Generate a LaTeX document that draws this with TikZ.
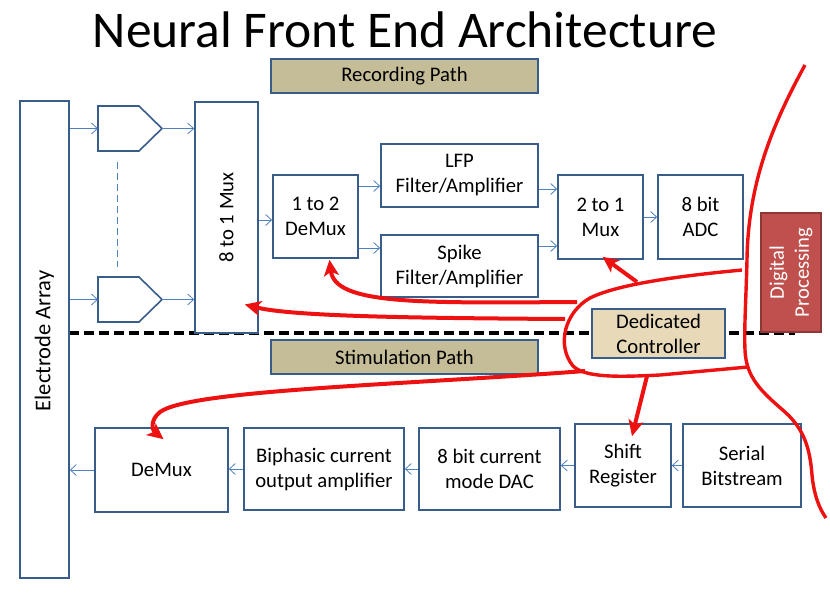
\documentclass[tikz,border=0pt]{standalone}
\usepackage{fontspec}
\setmainfont{Carlito}
\usetikzlibrary{arrows.meta,calc}
\definecolor{bbord}{HTML}{385D8A}
\definecolor{barr}{HTML}{4F81BD}
\definecolor{tanc}{HTML}{C4BD97}
\definecolor{ctrlc}{HTML}{E8DAB9}
\definecolor{dprocc}{HTML}{C0504D}
\definecolor{dprocb}{HTML}{8C3836}
\definecolor{redc}{HTML}{EE1111}
\begin{document}
\begin{tikzpicture}[x=1pt,y=-1pt,font=\fontsize{20.7}{25}\selectfont,
  blk/.style={draw=bbord,line width=1.6pt,fill=white,align=center,inner sep=0pt},
  tanbox/.style={blk,fill=tanc},
  bline/.style={draw=bbord,line width=1.6pt},
  barrow/.style={draw=barr,line width=0.8pt,-{Straight Barb[length=6pt,width=11pt,line width=0.8pt]}},
  rarrow/.style={draw=redc,line width=4pt,-{Stealth[length=16pt,width=15pt,inset=4pt]}},
  rcurve/.style={draw=redc,line width=3.4pt}]
\useasboundingbox (0,0) rectangle (830,610);

% title
\node[font=\fontsize{51.5}{60}\selectfont] (title) at (405,30) {Neural Front End Architecture};

% separator
\draw[line width=3.4pt,dash pattern=on 10pt off 5pt] (69,333) -- (795,333);

% path labels
\node[tanbox,minimum width=267pt,minimum height=34pt] (rec) at (404.5,76) {Recording Path};
\node[tanbox,minimum width=267pt,minimum height=34pt] (stim) at (404.5,357) {Stimulation Path};

% electrode array
\node[blk,minimum width=49pt,minimum height=477pt] (ea) at (44.5,339.5) {};
\node[rotate=90,font=\fontsize{22.5}{27}\selectfont] (eat) at (44.5,341) {Electrode Array};

% amplifiers
\draw[bline,fill=white] (98,106) -- (139,106) -- (162,128.5) -- (139,151) -- (98,151) -- cycle;
\draw[bline,fill=white] (98,277) -- (139,277) -- (162,299.5) -- (139,322) -- (98,322) -- cycle;
\coordinate (a1i) at (98,128.5);
\coordinate (a1o) at (162,128.5);
\coordinate (a2i) at (98,299.5);
\coordinate (a2o) at (162,299.5);
\coordinate (dash1) at (117,162);
\coordinate (dash2) at (117,267);
\draw[draw=barr,line width=0.8pt,dash pattern=on 7pt off 4pt] (dash1) -- (dash2);

% recording path blocks
\node[blk,minimum width=63pt,minimum height=231pt] (mux8) at (226.5,217.5) {};
\node[rotate=90] (mux8t) at (mux8.center) {8 to 1 Mux};
\node[blk,minimum width=85pt,minimum height=83pt] (dm12) at (315.5,216.5) {1 to 2\\DeMux};
\node[blk,minimum width=157pt,minimum height=63pt] (lfp) at (459.5,175.5) {LFP\\Filter/Amplifier};
\node[blk,minimum width=157pt,minimum height=62pt] (spk) at (459.5,266) {Spike\\Filter/Amplifier};
\node[blk,minimum width=85pt,minimum height=84pt] (mux21) at (600.5,217) {2 to 1\\Mux};
\node[blk,minimum width=85pt,minimum height=84pt] (adc) at (700.5,217) {8 bit\\ADC};
\node[draw=dprocb,fill=dprocc,line width=1.2pt,minimum width=60pt,minimum height=119pt] (dp) at (791,272.5) {};
\node[rotate=90,text=white,align=center] (dpt) at (dp.center) {Digital\\Processing};
\node[draw=bbord,fill=ctrlc,line width=1.6pt,align=center,inner sep=0pt,minimum width=133pt,minimum height=49pt] (ctrl) at (658.5,333.5) {Dedicated\\Controller};

% stimulation path blocks
\node[blk,minimum width=133pt,minimum height=84pt] (dmx) at (161.5,470) {DeMux};
\node[blk,minimum width=160pt,minimum height=82pt] (bip) at (324,469) {Biphasic current\\output amplifier};
\node[blk,minimum width=141pt,minimum height=82pt] (dac) at (489.5,469) {8 bit current\\mode DAC};
\node[blk,minimum width=96pt,minimum height=83pt] (sr) at (623,465.5) {Shift\\Register};
\node[blk,minimum width=118pt,minimum height=83pt] (sb) at (742,465.5) {Serial\\Bitstream};

% blue arrows
\draw[barrow] (ea.east |- a1i) -- (a1i);
\draw[barrow] (ea.east |- a2i) -- (a2i);
\draw[barrow] (a1o) -- (mux8.west |- a1o);
\draw[barrow] (a2o) -- (mux8.west |- a2o);
\draw[barrow] (mux8.east |- 0,220) -- (dm12.west |- 0,220);
\draw[barrow] (dm12.east |- 0,186) -- (lfp.west |- 0,186);
\draw[barrow] (dm12.east |- 0,248) -- (spk.west |- 0,248);
\draw[barrow] (lfp.east |- 0,189) -- (mux21.west |- 0,189);
\draw[barrow] (spk.east |- 0,246) -- (mux21.west |- 0,246);
\draw[barrow] (mux21.east) -- (adc.west);
\draw[barrow] (sb.west) -- (sr.east);
\draw[barrow] (sr.west) -- (dac.east |- sr.west);
\draw[barrow] (dac.west) -- (bip.east);
\draw[barrow] (bip.west) -- (dmx.east |- bip.west);
\draw[barrow] (dmx.west) -- (ea.east |- dmx.west);

% red control curves
\coordinate (r1) at (577,302);
\coordinate (r2) at (565,319);
\coordinate (r3) at (637,282);
\coordinate (r4) at (585,371);
\coordinate (r5) at (647,376);
\draw[rcurve] (805,65) .. controls (775,120) and (748,180) .. (747,260)
  .. controls (746,300) and (744,330) .. (745,350)
  .. controls (746,378) and (762,392) .. (785,412)
  .. controls (805,430) and (810,450) .. (812,475)
  .. controls (814,495) and (819,508) .. (826,518);
\draw[rcurve] (742,270) .. controls (690,275) and (620,283) .. (590,298)
  .. controls (565,312) and (556,345) .. (573,366)
  .. controls (585,378) and (620,377) .. (660,375) -- (748,367);
\draw[rarrow] (r1) .. controls (420,303) and (335,305) .. ([xshift=14pt,yshift=-1pt]dm12.south);
\draw[rarrow] (r2) .. controls (400,318) and (290,316) .. ([xshift=-14pt,yshift=-87pt]mux8.east);
\draw[rarrow] (r3) -- ([xshift=2pt,yshift=3pt]mux21.south);
\draw[rarrow] (r5) -- ([xshift=9pt,yshift=-13pt]sr.north);
\draw[rarrow] (r4) .. controls (400,385) and (190,390) .. (160,412)
  .. controls (150,420) and (152,430) .. ([xshift=2pt,yshift=-12pt]dmx.north);
\end{tikzpicture}
\end{document}
